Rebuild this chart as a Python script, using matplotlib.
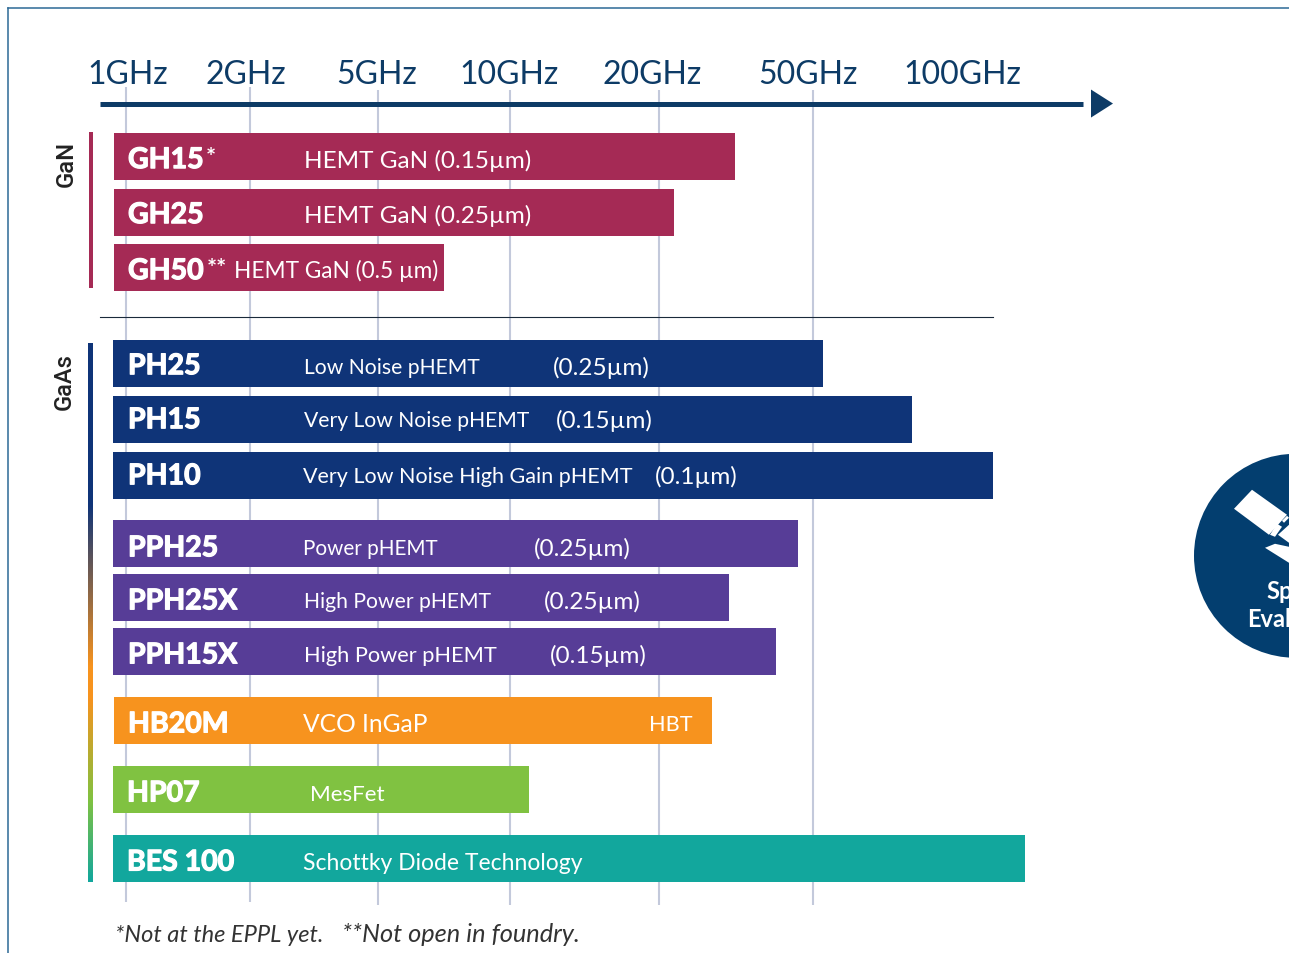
import numpy as np
import matplotlib
matplotlib.use("Agg")
import matplotlib.pyplot as plt
import matplotlib.patheffects as pe
from matplotlib.colors import LinearSegmentedColormap
from matplotlib.patches import Circle, Polygon

# frequency axis
freq_ticks = [1, 2, 5, 10, 20, 50, 100]
freq_labels = ["1GHz", "2GHz", "5GHz", "10GHz", "20GHz", "50GHz", "100GHz"]

# processes (GHz)
names = ["GH15", "GH25", "GH50", "PH25", "PH15", "PH10", "PPH25", "PPH25X",
         "PPH15X", "HB20M", "HP07", "BES 100"]
marks = ["*", "", "**", "", "", "", "", "", "", "", "", ""]
techs = ["HEMT GaN (0.15µm)", "HEMT GaN (0.25µm)", "HEMT GaN (0.5 µm)",
         "Low Noise pHEMT", "Very Low Noise pHEMT", "Very Low Noise High Gain pHEMT",
         "Power pHEMT", "High Power pHEMT", "High Power pHEMT",
         "VCO InGaP", "MesFet", "Schottky Diode Technology"]
gates = ["", "", "", "(0.25µm)", "(0.15µm)", "(0.1µm)", "(0.25µm)", "(0.25µm)",
         "(0.15µm)", "HBT", "", ""]
f_low = [0.935, 0.935, 0.935, 0.93, 0.93, 0.93, 0.93, 0.93, 0.93, 0.935, 0.93, 0.93]
f_high = [31.4, 21.9, 7.07, 52.4, 79.3, 115.5, 45.6, 30.3, 40.2, 27.4, 10.9, 134]

# layout, in pixels of the 1289x953 picture
W, H = 1289, 953
scale_f = [0.25, 0.5, 1, 2, 5, 10, 20, 50, 100, 200, 400]
scale_px = [-122, 2, 126, 250, 378, 510, 659, 813, 962, 1111, 1400]
label_x = [127.5, 245.5, 377, 509, 652, 808, 962]
bar_top = [133, 189, 244, 340, 396, 452, 520, 574, 628, 697, 766, 835]
name_x = [128, 128, 128, 128, 128, 128, 128, 128, 128, 128, 127, 127]
name_y = [158, 213, 269, 364, 418, 474, 546, 599, 653, 722, 791, 860]
mark_x = [206, 0, 207, 0, 0, 0, 0, 0, 0, 0, 0, 0]
tech_x = [304, 304, 234, 304, 304, 303, 303, 304, 304, 303, 310, 303]
tech_y = [159, 214, 269, 365, 418, 474, 546, 599, 653, 723, 792, 861]
tech_size = [17.5, 17.5, 16.3, 15.2, 15.2, 15.5, 14.9, 15.2, 15.7, 17.7, 16.2, 16.5]
gate_x = [0, 0, 0, 553, 556, 655, 534, 544, 550, 649, 0, 0]
gate_y = [0, 0, 0, 366, 419, 475, 547, 600, 654, 722, 0, 0]
gate_size = [0, 0, 0, 17.5, 17.5, 17.5, 17.5, 17.5, 17.5, 15.6, 0, 0]
BAR_H = 47

NAVY = "#0d3b66"
CRIMSON = "#a52a55"
BLUE = "#0f3478"
PURPLE = "#573d97"
ORANGE = "#f7931e"
GREEN = "#80c241"
TEAL = "#12a79d"
bar_colors = [CRIMSON] * 3 + [BLUE] * 3 + [PURPLE] * 3 + [ORANGE, GREEN, TEAL]

plt.rcParams["font.family"] = ["Lato", "DejaVu Sans"]


def forward(f):
    return np.interp(np.log(f), np.log(scale_f), scale_px)


def inverse(p):
    return np.exp(np.interp(p, scale_px, np.log(scale_f)))


fig = plt.figure(figsize=(W / 100, (H + 0.5) / 100), dpi=100, facecolor="white")

# bars and grid live on the frequency scale
ax = fig.add_axes([0, 0, 1, 1])
ax.set_xscale("function", functions=(forward, inverse))
ax.set_xlim(inverse(0), inverse(W))
ax.set_ylim(H, 0)
ax.axis("off")

ax.vlines(freq_ticks[:2], 87, 902, color="#c3c9db", lw=1.5, zorder=1)
ax.vlines(freq_ticks[2:6], 90, 905, color="#c3c9db", lw=1.5, zorder=1)

lows = np.array(f_low)
highs = np.array(f_high)
centers = np.array(bar_top) + BAR_H / 2
ax.barh(centers, highs - lows, left=lows, height=BAR_H, color=bar_colors, zorder=2)

# everything else is drawn in pixels on top
ov = fig.add_axes([0, 0, 1, 1], facecolor="none")
ov.set_xlim(0, W)
ov.set_ylim(H, 0)
ov.axis("off")

# frame
ov.plot([8, 8], [H, 8], color="#2c6a96", lw=1.1, clip_on=False)
ov.plot([8, W], [8, 8], color="#2c6a96", lw=1.1, clip_on=False)

# axis line and arrow
ov.plot([99.5, 1083], [104, 104], color=NAVY, lw=3.6, solid_capstyle="butt")
ov.add_patch(Polygon([(1091, 90), (1113, 104), (1091, 118)], color=NAVY, lw=0))
ov.plot([100, 993], [317, 317], color="#1a2a3a", lw=0.8)

for x, lab in zip(label_x, freq_labels):
    ov.text(x, 84, lab, color=NAVY, fontsize=23, ha="center", va="baseline")

# group labels and side bars
ov.text(66, 164, "GaN", rotation=90, ha="center", va="center", fontsize=17.2,
        family=["Roboto"], color="#222222", fontweight="medium")
ov.text(64, 381, "GaAs", rotation=90, ha="center", va="center", fontsize=17,
        family=["Roboto"], color="#222222", fontweight="medium")
ov.fill_between([89, 93], 132, 288, color=CRIMSON, lw=0)

side = LinearSegmentedColormap.from_list("side", [
    (0.0, BLUE), (0.3, BLUE), (0.6, ORANGE), (0.66, ORANGE), (0.85, GREEN), (1.0, TEAL)])
ov.imshow(np.linspace(0, 1, 256).reshape(-1, 1), cmap=side, aspect="auto",
          extent=(88, 93, 882, 344), zorder=2)
ov.set_xlim(0, W)
ov.set_ylim(H, 0)

# row texts
heavy = [pe.withStroke(linewidth=0.9, foreground="white")]
for i in range(len(names)):
    ov.text(name_x[i], name_y[i] + 10.5, names[i], color="white", fontsize=20.5,
            fontweight="bold", va="baseline", path_effects=heavy)
    if marks[i]:
        ov.text(mark_x[i], name_y[i] + 8, marks[i], color="white", fontsize=17,
                fontweight="bold", va="baseline")
    ov.text(tech_x[i], tech_y[i] + 9, techs[i], color="white", fontsize=tech_size[i],
            va="baseline")
    if gates[i]:
        ov.text(gate_x[i], gate_y[i] + 9, gates[i], color="white", fontsize=gate_size[i],
                va="baseline")

# footnote
ov.text(115, 942, "*Not at the EPPL yet.", color="#333333", fontsize=17, style="italic",
        va="baseline")
ov.text(342, 942, "**Not open in foundry.", color="#333333", fontsize=18.3, style="italic",
        va="baseline")

# badge cut by the right edge
ov.add_patch(Circle((1296, 556), 102, color="#033e6f", lw=0))
ov.add_patch(Polygon([(1252, 490), (1234, 509), (1269, 535), (1287, 515)], color="white", lw=0))
ov.add_patch(Polygon([(1282, 521), (1287, 516), (1289, 518), (1284, 523)], color="white", lw=0))
ov.add_patch(Polygon([(1270, 535), (1277, 524), (1282, 527), (1275, 537)], color="white", lw=0))
ov.add_patch(Polygon([(1278, 535), (1289, 525), (1289, 543)], color="white", lw=0))
ov.add_patch(Polygon([(1265, 548), (1275, 544), (1289, 547), (1289, 563)], color="white", lw=0))
ov.text(1266, 599, "Sp", color="white", fontsize=17, fontweight="bold", va="baseline", clip_on=True)
ov.text(1247, 627, "Eval", color="white", fontsize=17, fontweight="bold", va="baseline", clip_on=True)

fig.savefig("out.png", dpi=100)
